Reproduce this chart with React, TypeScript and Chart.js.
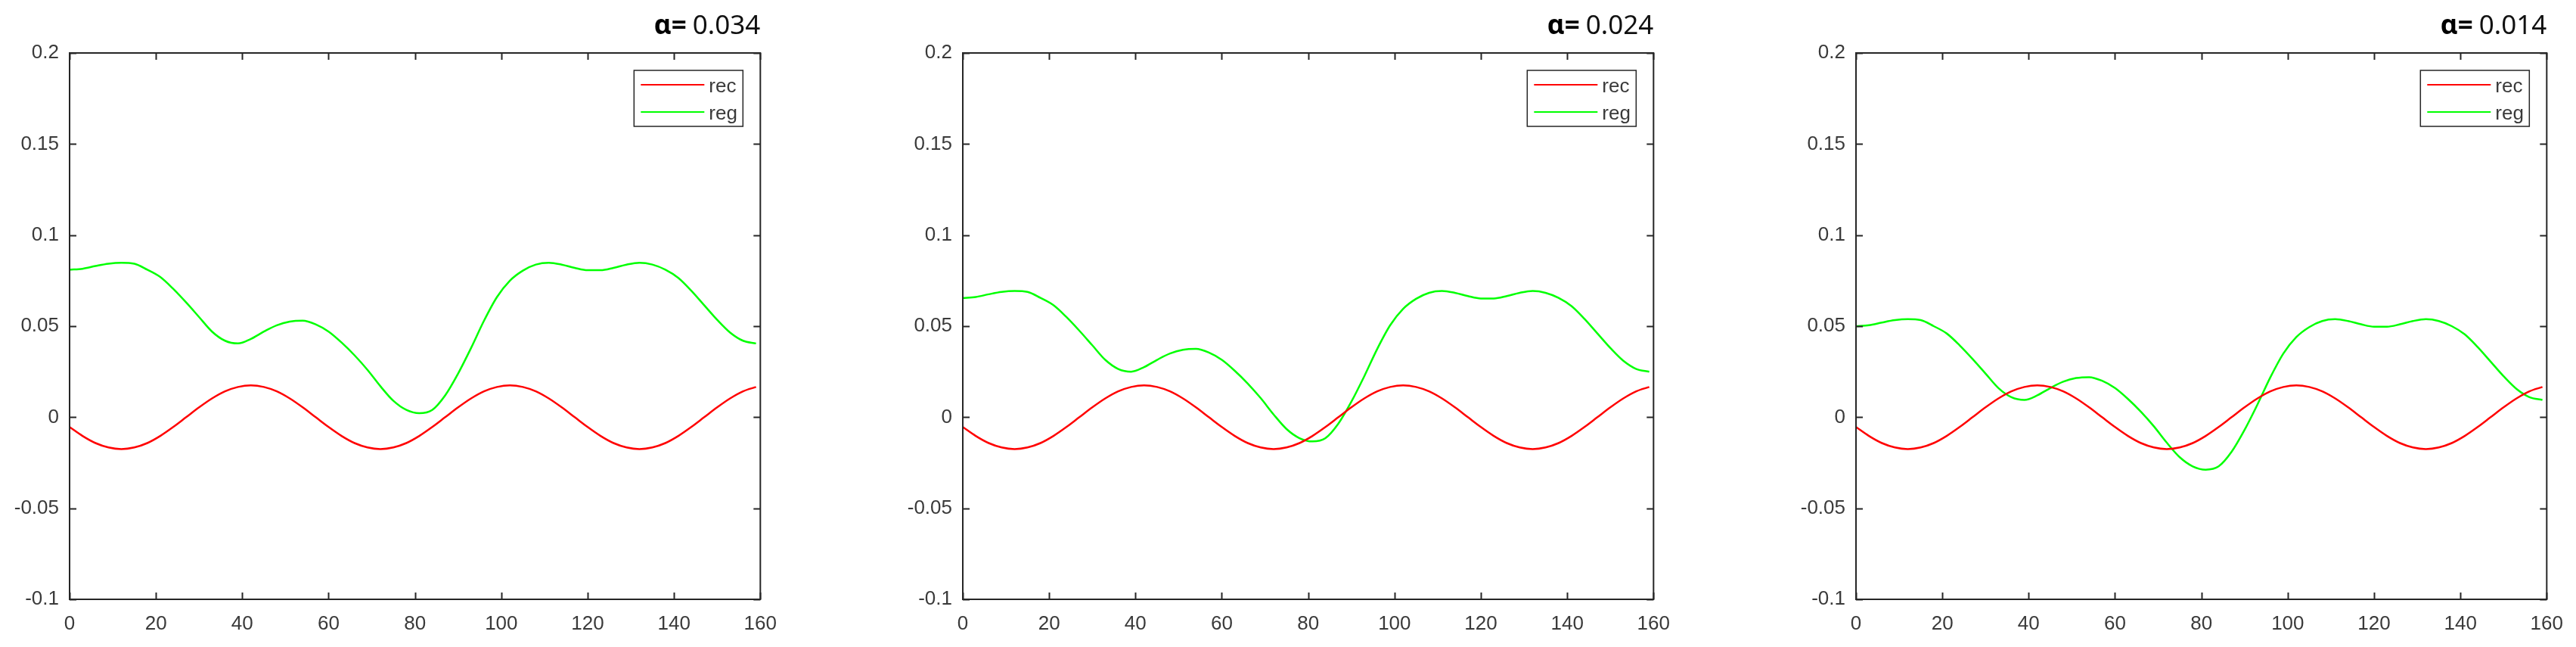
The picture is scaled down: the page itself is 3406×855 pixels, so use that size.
import { useEffect, useRef } from 'react';
import { Chart, registerables } from 'chart.js';

Chart.register(...registerables);

// sample positions (x axis) shared by every curve
const xValues = [
	0, 3, 6, 9, 12, 15, 18, 21, 24, 27, 30, 33, 36, 39, 42, 45, 48, 51, 54, 57,
	60, 63, 66, 69, 72, 75, 78, 81, 84, 87, 90, 93, 96, 99, 102, 105, 108, 111, 114, 117,
	120, 123, 126, 129, 132, 135, 138, 141, 144, 147, 150, 153, 156, 159,
];

// red "rec" curve, same in all three panels
const recValues = [
	-0.0054, -0.0103, -0.0142, -0.0166, -0.0175, -0.0166, -0.0142, -0.0103, -0.0054, 0,
	0.0054, 0.0103, 0.0142, 0.0166, 0.0175, 0.0166, 0.0142, 0.0103, 0.0054, 0,
	-0.0054, -0.0103, -0.0142, -0.0166, -0.0175, -0.0166, -0.0142, -0.0103, -0.0054, 0,
	0.0054, 0.0103, 0.0142, 0.0166, 0.0175, 0.0166, 0.0142, 0.0103, 0.0054, 0,
	-0.0054, -0.0103, -0.0142, -0.0166, -0.0175, -0.0166, -0.0142, -0.0103, -0.0054, 0,
	0.0054, 0.0103, 0.0142, 0.0166,
];

// green "reg" curves, one per alpha
const regValues034 = [
	0.081, 0.0815, 0.083, 0.0843, 0.0848, 0.0843, 0.081, 0.077, 0.0705, 0.063,
	0.055, 0.047, 0.042, 0.0405, 0.043, 0.047, 0.0505, 0.0525, 0.053, 0.051,
	0.047, 0.041, 0.034, 0.026, 0.017, 0.009, 0.004, 0.0022, 0.004, 0.012,
	0.024, 0.038, 0.053, 0.066, 0.075, 0.0805, 0.0838, 0.0848, 0.0838, 0.082,
	0.0807, 0.0807, 0.082, 0.0838, 0.0848, 0.0838, 0.081, 0.0765, 0.0695, 0.0615,
	0.0535, 0.0465, 0.042, 0.0405,
];
const regValues024 = [
	0.0655, 0.066, 0.0675, 0.0688, 0.0693, 0.0688, 0.0655, 0.0615, 0.055, 0.0475,
	0.0395, 0.0315, 0.0265, 0.025, 0.0275, 0.0315, 0.035, 0.037, 0.0375, 0.0355,
	0.0315, 0.0255, 0.0185, 0.0105, 0.0015, -0.0065, -0.0115, -0.0133, -0.0115, -0.0035,
	0.0085, 0.0225, 0.0375, 0.0505, 0.0595, 0.065, 0.0683, 0.0693, 0.0683, 0.0665,
	0.0652, 0.0652, 0.0665, 0.0683, 0.0693, 0.0683, 0.0655, 0.061, 0.054, 0.046,
	0.038, 0.031, 0.0265, 0.025,
];
const regValues014 = [
	0.05, 0.0505, 0.052, 0.0533, 0.0538, 0.0533, 0.05, 0.046, 0.0395, 0.032,
	0.024, 0.016, 0.011, 0.0095, 0.012, 0.016, 0.0195, 0.0215, 0.022, 0.02,
	0.016, 0.01, 0.003, -0.005, -0.014, -0.022, -0.027, -0.0288, -0.027, -0.019,
	-0.007, 0.007, 0.022, 0.035, 0.044, 0.0495, 0.0528, 0.0538, 0.0528, 0.051,
	0.0497, 0.0497, 0.051, 0.0528, 0.0538, 0.0528, 0.05, 0.0455, 0.0385, 0.0305,
	0.0225, 0.0155, 0.011, 0.0095,
];

const alphaLabels = ['0.034', '0.024', '0.014'];
const seriesLabels = ['rec', 'reg'];
const xTicks = [0, 20, 40, 60, 80, 100, 120, 140, 160];
const xTickLabels = ['0', '20', '40', '60', '80', '100', '120', '140', '160'];
const yTicks = [-0.1, -0.05, 0, 0.05, 0.1, 0.15, 0.2];
const yTickLabels = ['-0.1', '-0.05', '0', '0.05', '0.1', '0.15', '0.2'];

const AXIS_COLOR = '#262626';
const LABEL_COLOR = '#3a3a3a';
const TICK_FONT = { family: '"Liberation Sans", Arial, sans-serif', size: 26 };
const PANEL_W = 1044;
const PANEL_H = 855;

function Panel({ left, alpha, reg }: { left: number; alpha: string; reg: number[] }) {
	const chartRef = useRef<HTMLCanvasElement>(null);

	useEffect(() => {
		if (!chartRef.current) return;

		// matlab-ish frame: box, inward ticks, boxed legend, alpha title
		const framePlugin = {
			id: 'matlabFrame',
			afterDraw(chart: Chart) {
				const { ctx, chartArea } = chart;
				const { left: l, right: r, top: t, bottom: b } = chartArea;
				const xs = chart.scales.x;
				const ys = chart.scales.y;
				ctx.save();
				ctx.strokeStyle = AXIS_COLOR;
				ctx.lineWidth = 2;
				ctx.strokeRect(l, t, r - l, b - t);
				ctx.beginPath();
				xTicks.forEach((v) => {
					const px = Math.round(xs.getPixelForValue(v)) + 0.5;
					ctx.moveTo(px, b);
					ctx.lineTo(px, b - 9);
					ctx.moveTo(px, t);
					ctx.lineTo(px, t + 9);
				});
				yTicks.forEach((v) => {
					const py = Math.round(ys.getPixelForValue(v)) + 0.5;
					ctx.moveTo(l, py);
					ctx.lineTo(l + 9, py);
					ctx.moveTo(r, py);
					ctx.lineTo(r - 9, py);
				});
				ctx.stroke();

				// legend
				const bx = r - 167;
				const by = t + 23;
				ctx.fillStyle = '#fff';
				ctx.fillRect(bx, by, 144, 74);
				ctx.lineWidth = 1.5;
				ctx.strokeRect(bx, by, 144, 74);
				ctx.font = '26px "Liberation Sans", Arial, sans-serif';
				ctx.textAlign = 'left';
				ctx.textBaseline = 'middle';
				chart.data.datasets.forEach((ds, i) => {
					const ly = by + 19 + i * 36;
					ctx.strokeStyle = ds.borderColor as string;
					ctx.lineWidth = 2;
					ctx.beginPath();
					ctx.moveTo(bx + 9, ly);
					ctx.lineTo(bx + 93, ly);
					ctx.stroke();
					ctx.fillStyle = LABEL_COLOR;
					ctx.fillText(ds.label as string, bx + 99, ly + 3);
				});

				// title  "α= 0.034" right-aligned on the plot box
				ctx.textAlign = 'right';
				ctx.textBaseline = 'alphabetic';
				ctx.fillStyle = '#111';
				ctx.font = '35px "Noto Sans", sans-serif';
				const numW = ctx.measureText(alpha).width;
				ctx.fillText(alpha, r, 45);
				ctx.font = 'bold 35px "Noto Sans", sans-serif';
				ctx.fillStyle = '#000';
				ctx.fillText('α=', r - numW - 8, 45);
				ctx.restore();
			},
		};

		const chart = new Chart(chartRef.current, {
			type: 'line',
			data: {
				datasets: [
					{
						label: seriesLabels[0],
						data: xValues.map((x, i) => ({ x, y: recValues[i] })),
						borderColor: '#ff0000',
						borderWidth: 2.5,
						pointRadius: 0,
						cubicInterpolationMode: 'monotone',
					},
					{
						label: seriesLabels[1],
						data: xValues.map((x, i) => ({ x, y: reg[i] })),
						borderColor: '#00ff00',
						borderWidth: 2.5,
						pointRadius: 0,
						cubicInterpolationMode: 'monotone',
					},
				],
			},
			options: {
				animation: false,
				responsive: true,
				maintainAspectRatio: false,
				events: [],
				layout: { padding: { top: 70, right: 38, left: 0, bottom: 0 } },
				plugins: {
					legend: { display: false },
					title: { display: false },
					tooltip: { enabled: false },
				},
				scales: {
					x: {
						type: 'linear',
						min: 0,
						max: 160,
						grid: { display: false, drawTicks: false },
						border: { display: false },
						afterBuildTicks: (s) => {
							s.ticks = xTicks.map((value) => ({ value }));
						},
						afterFit: (s) => {
							s.height = 63;
						},
						ticks: {
							callback: (_v, i) => xTickLabels[i],
							padding: 17,
							font: TICK_FONT,
							color: LABEL_COLOR,
							maxRotation: 0,
							autoSkip: false,
						},
					},
					y: {
						type: 'linear',
						min: -0.1,
						max: 0.2,
						grid: { display: false, drawTicks: false },
						border: { display: false },
						afterBuildTicks: (s) => {
							s.ticks = yTicks.map((value) => ({ value }));
						},
						afterFit: (s) => {
							s.width = 92;
						},
						ticks: {
							callback: (_v, i) => yTickLabels[i],
							padding: 14,
							font: TICK_FONT,
							color: LABEL_COLOR,
							autoSkip: false,
						},
					},
				},
			},
			plugins: [framePlugin],
		});

		return () => chart.destroy();
	}, [alpha, reg]);

	return (
		<div style={{ position: 'absolute', left, top: 0, width: PANEL_W, height: PANEL_H }}>
			<canvas ref={chartRef}></canvas>
		</div>
	);
}

export default function App() {
	return (
		<div
			style={{
				position: 'absolute',
				left: 0,
				top: 0,
				width: 3406,
				height: 855,
				overflow: 'hidden',
				background: '#fff',
			}}
		>
			<Panel left={0} alpha={alphaLabels[0]} reg={regValues034} />
			<Panel left={1181} alpha={alphaLabels[1]} reg={regValues024} />
			<Panel left={2362} alpha={alphaLabels[2]} reg={regValues014} />
		</div>
	);
}
